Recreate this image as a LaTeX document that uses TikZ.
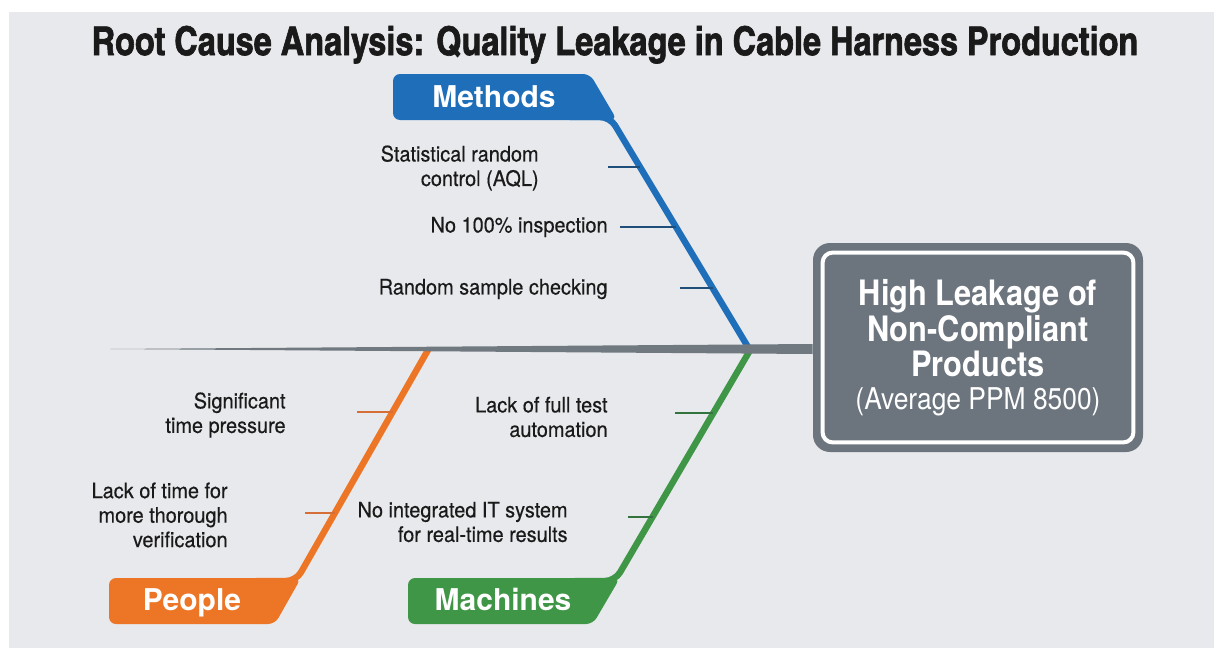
\documentclass[tikz,border=0pt]{standalone}
\usepackage{fontspec}
\setmainfont{texgyreheros}[Extension=.otf, UprightFont=*-regular, BoldFont=*-bold]
\newfontfamily\titlefont{texgyreheroscn-bold.otf}[FakeBold=1.6]
\newfontfamily\causefont{texgyreheros-regular.otf}[FakeBold=0.4, FakeStretch=0.93]
\newfontfamily\effectfont{texgyreheros}[Extension=.otf, UprightFont=*-regular, BoldFont=*-bold, FakeStretch=0.88]
\usepackage{tikz}
\usetikzlibrary{calc}
\definecolor{bgGray}{RGB}{232,233,236}
\definecolor{methodsBlue}{RGB}{30,110,185}
\definecolor{methodsTick}{RGB}{32,78,122}
\definecolor{peopleOrange}{RGB}{236,118,38}
\definecolor{peopleTick}{RGB}{214,110,55}
\definecolor{machinesGreen}{RGB}{62,150,70}
\definecolor{machinesTick}{RGB}{50,115,62}
\definecolor{effectGray}{RGB}{108,117,125}
\definecolor{spineGray}{RGB}{112,121,128}
\definecolor{txtDark}{RGB}{26,26,26}

\begin{document}
\begin{tikzpicture}[x=0.5pt,y=-0.5pt,
    bone/.style={line width=3.2pt, line cap=round, rounded corners=5pt},
    tick/.style={line width=1.3pt},
    cause/.style={anchor=east, align=right, inner sep=0pt, text=txtDark, font=\causefont\fontsize{10.7}{12.25}\selectfont},
    tabtext/.style={anchor=base, text=white, font=\fontsize{15}{18}\selectfont\bfseries}]
    \useasboundingbox (0,0) rectangle (1214,648);
    \fill[bgGray] (9,12) rectangle (1214,648);
    \node[anchor=base, text=txtDark, font=\titlefont\fontsize{19.8}{22}\selectfont] (title) at (615,55)
        {Root Cause Analysis: Quality Leakage in Cable Harness Production};
    % category tabs
    \fill[methodsBlue, rounded corners=3.5pt] (393,74) -- (590,74) -- (617,120) -- (393,120) -- cycle;
    \fill[peopleOrange, rounded corners=3.5pt] (109,578) -- (301,578) -- (275,624) -- (109,624) -- cycle;
    \fill[machinesGreen, rounded corners=3.5pt] (408,578) -- (620,578) -- (593,624) -- (408,624) -- cycle;
    \node[tabtext] (methods) at (494,107) {Methods};
    \node[tabtext] (people) at (192,610) {People};
    \node[tabtext] (machines) at (503,610) {Machines};
    % bones
    \coordinate (mJoin) at (748,347);
    \coordinate (mKnee) at (610,117);
    \coordinate (pJoin) at (428,350);
    \coordinate (pKnee) at (296,581);
    \coordinate (cJoin) at (749,352);
    \coordinate (cKnee) at (615,581);
    \coordinate (tail) at (110,349);
    \draw[bone, methodsBlue] (mJoin) -- (mKnee) -- ++(-40,0);
    \draw[bone, peopleOrange] (pJoin) -- (pKnee) -- ++(-40,0);
    \draw[bone, machinesGreen] (cJoin) -- (cKnee) -- ++(-40,0);
    % effect box and spine
    \node[fill=effectGray, rounded corners=8.5pt, minimum width=165pt, minimum height=104.5pt,
          inner sep=0pt, text=white, align=center, font=\effectfont\fontsize{17.5}{16.5}\selectfont] (effect) at (978,347.5)
        {\textbf{High Leakage of}\\\textbf{Non-Compliant}\\\textbf{Products}\\{\fontsize{15}{16.5}\selectfont(Average PPM 8500)}};
    \draw[white, line width=2pt, rounded corners=5pt]
        ($(effect.north west)+(10,10)$) rectangle ($(effect.south east)+(-10,-10)$);
    \fill[spineGray] (tail) -- ($(effect.west)+(0,-3.5)$) -- ($(effect.west)+(0,6.5)$) -- cycle;
    % ticks
    \path (mJoin) -- (mKnee) coordinate[pos=.783] (mT1) coordinate[pos=.522] (mT2) coordinate[pos=.257] (mT3);
    \path (pJoin) -- (pKnee) coordinate[pos=.268] (pT1) coordinate[pos=.706] (pT2);
    \path (cJoin) -- (cKnee) coordinate[pos=.266] (cT1) coordinate[pos=.72] (cT2);
    \draw[tick, methodsTick] (mT1) -- ++(-32,0);
    \draw[tick, methodsTick] (mT2) -- ++(-56,0);
    \draw[tick, methodsTick] (mT3) -- ++(-33,0);
    \draw[tick, peopleTick] (pT1) -- ++(-36,0);
    \draw[tick, peopleTick] (pT2) -- ++(-30,0);
    \draw[tick, machinesTick] (cT1) -- ++(-38,0);
    \draw[tick, machinesTick] (cT2) -- ++(-25,0);
    % causes
    \node[cause] (mCause1) at (539,168) {Statistical random\\control (AQL)};
    \node[cause] (mCause2) at (608,227) {No 100\% inspection};
    \node[cause] (mCause3) at (608,289) {Random sample checking};
    \node[cause] (pCause1) at (286,415) {Significant\\time pressure};
    \node[cause] (pCause2) at (228,515) {Lack of time for\\more thorough\\verification};
    \node[cause] (cCause1) at (608,417) {Lack of full test\\automation};
    \node[cause] (cCause2) at (568,522) {No integrated IT system\\for real-time results};
\end{tikzpicture}
\end{document}
